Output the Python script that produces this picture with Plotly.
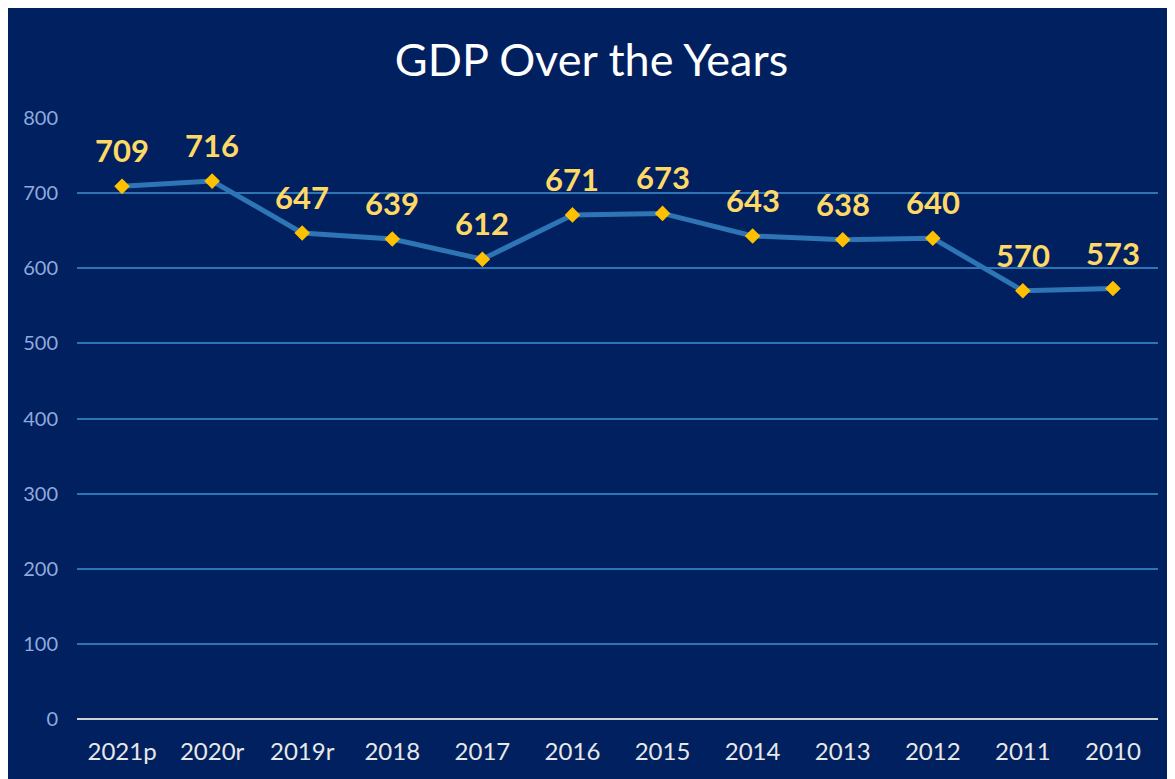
import plotly.graph_objects as go

years = ["2021p", "2020r", "2019r", "2018", "2017", "2016", "2015", "2014", "2013", "2012", "2011", "2010"]
gdp = [709, 716, 647, 639, 612, 671, 673, 643, 638, 640, 570, 573]
y_ticks = [0, 100, 200, 300, 400, 500, 600, 700, 800]

# the rendered figure sits 8px in from the page's top-left corner
OFF = 8
W, H = 1175 - OFF, 779 - OFF
L, R, T, B = 77 - OFF, 17, 118 - OFF, 60

NAVY = "#002060"

fig = go.Figure()
fig.add_trace(go.Scatter(
    x=years, y=gdp, mode="lines+markers",
    line=dict(color="#2E75B6", width=5),
    marker=dict(symbol="diamond", size=12, color="#FFC000"),
    hoverinfo="x+y", showlegend=False,
))

for i, v in enumerate(gdp):
    fig.add_annotation(x=i, y=v, xref="x", yref="y", text=str(v), showarrow=False, yshift=36,
                       font=dict(family="Lato", size=31, color="#FFD966", weight="bold"))

fig.update_layout(
    width=W, height=H,
    margin=dict(l=L, r=R, t=T, b=B),
    paper_bgcolor=NAVY,
    plot_bgcolor=NAVY,
    title=dict(text="GDP Over the Years", x=0.5, xanchor="center", y=1 - (60 - OFF) / H, yanchor="middle",
               font=dict(family="Lato", size=45, color="white")),
    xaxis=dict(type="category", range=[-0.5, 11.5], showgrid=False, zeroline=False,
               showline=False, ticks="", ticklabelstandoff=16,
               tickfont=dict(family="Lato", size=24, color="#E8E8E8")),
    yaxis=dict(range=[0, 800], tickvals=y_ticks, showgrid=True, gridcolor="#2E75B6", gridwidth=2,
               zeroline=True, zerolinecolor="#D0D0D0", zerolinewidth=2, showline=False,
               ticks="", ticklabelstandoff=18,
               tickfont=dict(family="Lato", size=20, color="#8FAADC")),
)

fig.write_html("out.html")
